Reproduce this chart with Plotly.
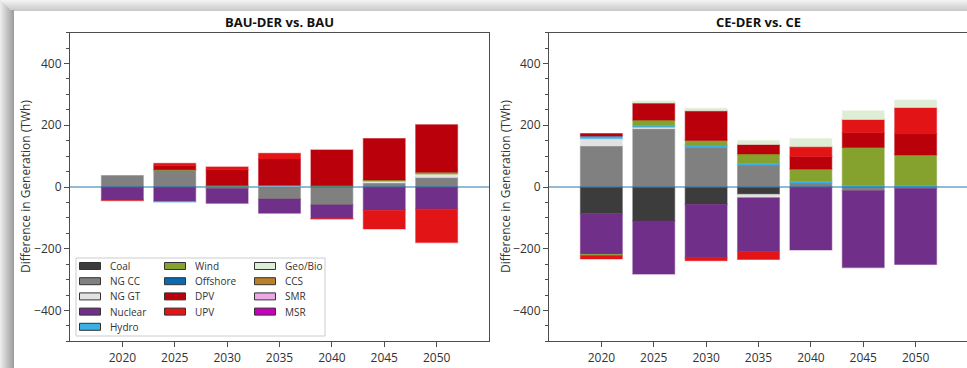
import plotly.graph_objects as go

W, H = 967, 368

years = [2020, 2025, 2030, 2035, 2040, 2045, 2050]
year_ticks = ["2020", "2025", "2030", "2035", "2040", "2045", "2050"]
y_ticks = [-400, -200, 0, 200, 400]

techs = ["Coal", "NG CC", "NG GT", "Nuclear", "Hydro", "Wind", "Offshore",
         "DPV", "UPV", "Geo/Bio", "CCS", "SMR", "MSR"]
tech_colors = ["#3c3c3c", "#808080", "#e2e2e2", "#702f88", "#3ab0e4", "#86a22e",
               "#0868b0", "#ba000a", "#e21416", "#deeed6", "#ba8028", "#eaa8e6",
               "#c800be"]

titles = ["BAU-DER vs. BAU", "CE-DER vs. CE"]
y_label = "Difference in Generation (TWh)"

# ---- BAU-DER vs. BAU (TWh) ----
bau_coal = [0, 0, 0, 0, 0, 0, 0]
bau_ngcc = [37, 54, -5, -39, -58, 13, 31]
bau_nggt = [0, 0, 0, 5, 0, 6, 11]
bau_nuclear = [-42, -47, -48, -46, -44, -75, -72]
bau_hydro = [0, -2, 0, 0, 0, 0, 0]
bau_wind = [0, 2, 5, 0, 4, 4, 6]
bau_offshore = [0, 0, 0, 0, 0, 0, 0]
bau_dpv = [0, 13, 51, 86, 116, 134, 154]
bau_upv = [-2, 8, 9, 18, -2, -61, -108]
bau_geobio = [0, 0, 0, 0, 0, 0, 0]
bau_ccs = [0, 0, 0, 0, 0, 0, 0]
bau_smr = [0, 0, 0, 0, 0, 0, 0]
bau_msr = [0, 0, 0, 0, 0, 0, 0]

# ---- CE-DER vs. CE (TWh) ----
ce_coal = [-86, -110, -56, -24, 0, 0, 0]
ce_ngcc = [133, 189, 129, 71, 13, -12, -5]
ce_nggt = [24, 5, 0, -11, 0, 0, 0]
ce_nuclear = [-132, -172, -173, -174, -204, -249, -246]
ce_hydro = [8, 5, 7, 6, 6, 6, 4]
ce_wind = [-4, 18, 15, 30, 39, 122, 100]
ce_offshore = [0, 0, 0, 0, 0, 0, 0]
ce_dpv = [8, 55, 96, 31, 41, 48, 68]
ce_upv = [-11, 0, -10, -26, 32, 43, 86]
ce_geobio = [0, 7, 8, 13, 26, 28, 24]
ce_ccs = [0, 0, 0, 0, 0, 0, 0]
ce_smr = [0, 0, 0, 0, 0, 0, 0]
ce_msr = [0, 0, 0, 0, 0, 0, 0]

bau_series = [bau_coal, bau_ngcc, bau_nggt, bau_nuclear, bau_hydro, bau_wind,
              bau_offshore, bau_dpv, bau_upv, bau_geobio, bau_ccs, bau_smr, bau_msr]
ce_series = [ce_coal, ce_ngcc, ce_nggt, ce_nuclear, ce_hydro, ce_wind,
             ce_offshore, ce_dpv, ce_upv, ce_geobio, ce_ccs, ce_smr, ce_msr]

FONT = "Open Sans"
TXT = "#333333"
SPINE = "#4d4d4d"


def px(x):
    return x / W


def py(y):
    return 1 - y / H


def with_alpha(hex_col, a):
    h = hex_col.lstrip("#")
    r, g, b = int(h[0:2], 16), int(h[2:4], 16), int(h[4:6], 16)
    return f"rgba({r},{g},{b},{a})"


fig = go.Figure()
for series, xa, ya in [(bau_series, "x", "y"), (ce_series, "x2", "y2")]:
    for name, col, vals in zip(techs, tech_colors, series):
        fig.add_trace(go.Bar(
            x=years, y=[v if v != 0 else None for v in vals], name=name,
            width=4, marker=dict(color=col, line=dict(color=with_alpha(col, 0.45), width=1.2)),
            xaxis=xa, yaxis=ya, showlegend=False,
        ))

x_dom1 = [px(70), px(489)]
x_dom2 = [px(549), 1.0]
y_dom = [py(341.3), py(32.7)]

axis_common = dict(showgrid=False, zeroline=False, showline=True, linecolor=SPINE,
                   linewidth=1, ticks="outside", tickcolor=SPINE, ticklen=5,
                   tickfont=dict(family=FONT, size=12, color=TXT))

fig.update_layout(
    barmode="relative",
    width=W, height=H,
    margin=dict(l=0, r=0, t=0, b=0),
    paper_bgcolor="white", plot_bgcolor="white",
    font=dict(family=FONT, color=TXT),
    xaxis=dict(domain=x_dom1, range=[2015, 2055], anchor="y", mirror=True,
               tickvals=years, ticktext=year_ticks, **axis_common),
    yaxis=dict(domain=y_dom, range=[-500, 500], anchor="x", mirror=True,
               tickvals=y_ticks,
               minor=dict(dtick=50, ticks="outside", ticklen=3, tickcolor=SPINE),
               **axis_common),
    xaxis2=dict(domain=x_dom2, range=[2015, 2015 + 40 * (967 - 549) / 419], anchor="y2",
                mirror=True, tickvals=years, ticktext=year_ticks, **axis_common),
    yaxis2=dict(domain=y_dom, range=[-500, 500], anchor="x2", mirror=False,
                tickvals=y_ticks,
                minor=dict(dtick=50, ticks="outside", ticklen=3, tickcolor=SPINE),
                **axis_common),
)

shapes = []
# window shadow frame (top and left bands)
for i in range(11):
    g = int(242 - i * 4)
    shapes.append(dict(type="rect", xref="paper", yref="paper", x0=0, x1=1,
                       y0=py(i + 1), y1=py(i), fillcolor=f"rgb({g},{g},{g})",
                       line=dict(width=0), layer="below"))
for j in range(14):
    g = int(236 - j * 6)
    shapes.append(dict(type="rect", xref="paper", yref="paper", x0=px(j), x1=px(j + 1),
                       y0=0, y1=py(min(j, 10)), fillcolor=f"rgb({g},{g},{g})",
                       line=dict(width=0), layer="below"))

# zero lines
for xr, yr in [("x domain", "y"), ("x2 domain", "y2")]:
    shapes.append(dict(type="line", xref=xr, yref=yr, x0=0, x1=1, y0=0, y1=0,
                       line=dict(color="rgba(31,119,180,0.5)", width=2), layer="above"))

# legend frame
shapes.append(dict(type="rect", xref="paper", yref="paper", x0=px(76), x1=px(325),
                   y0=py(336), y1=py(258), fillcolor="rgba(255,255,255,0.8)",
                   line=dict(color="#cccccc", width=1), layer="above"))

annotations = []
col_patch_x = [79.5, 164.5, 254.5]
col_text_x = [108, 193, 282.5]
row_y = [266, 281.2, 296.4, 311.6, 326.8]
for i, (name, col) in enumerate(zip(techs, tech_colors)):
    c = 0 if i < 5 else (1 if i < 9 else 2)
    r = i if c == 0 else (i - 5 if c == 1 else i - 9)
    yc = row_y[r]
    shapes.append(dict(type="rect", xref="paper", yref="paper",
                       x0=px(col_patch_x[c]), x1=px(col_patch_x[c] + 21),
                       y0=py(yc + 3.5), y1=py(yc - 3.5), fillcolor=col,
                       line=dict(color="#333333", width=1), layer="above"))
    annotations.append(dict(text=name, xref="paper", yref="paper", x=px(col_text_x[c]),
                            y=py(yc), xanchor="left", yanchor="middle", showarrow=False,
                            font=dict(family=FONT, size=10, color=TXT)))

# panel titles
for t, xc in zip(titles, [279.5, 758.5]):
    annotations.append(dict(text=f"<b>{t}</b>", xref="paper", yref="paper", x=px(xc),
                            y=py(22), xanchor="center", yanchor="middle", showarrow=False,
                            font=dict(family=FONT, size=13, color="#111111")))
# y-axis titles
for xc in [25, 505]:
    annotations.append(dict(text=y_label, xref="paper", yref="paper", x=px(xc),
                            y=py(187), xanchor="center", yanchor="middle", showarrow=False,
                            textangle=-90, font=dict(family=FONT, size=12, color=TXT)))

fig.update_layout(shapes=shapes, annotations=annotations)
fig.write_html("out.html", config={"displayModeBar": False},
               post_script="document.body.style.margin='0px';document.body.style.overflow='hidden';")
